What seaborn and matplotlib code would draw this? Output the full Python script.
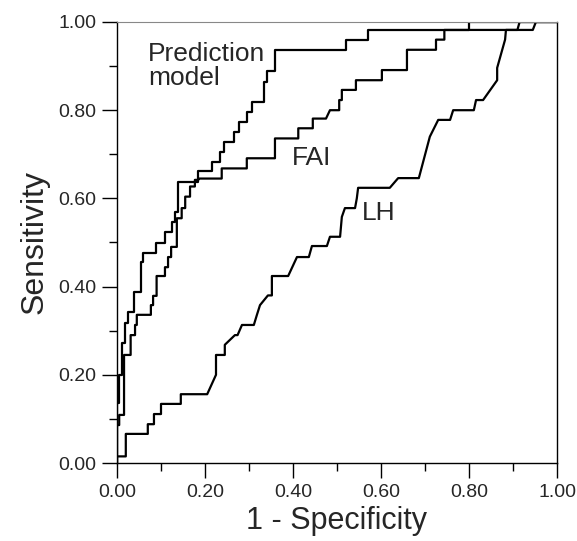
#!/usr/bin/env python3
import matplotlib
matplotlib.use("Agg")
import matplotlib.pyplot as plt
from matplotlib.ticker import MultipleLocator, FormatStrFormatter
import pandas as pd
import seaborn as sns

# ROC step curves (1 - specificity, sensitivity)
pred_fpr = [0, 0, 0.005, 0.005, 0.011, 0.011, 0.018, 0.018, 0.025, 0.025, 0.039, 0.039,
            0.054, 0.054, 0.06, 0.06, 0.089, 0.089, 0.109, 0.109, 0.125, 0.125, 0.132, 0.132,
            0.138, 0.138, 0.185, 0.185, 0.215, 0.215, 0.234, 0.234, 0.244, 0.244, 0.265, 0.265,
            0.278, 0.278, 0.295, 0.295, 0.306, 0.306, 0.333, 0.333, 0.34, 0.34, 0.359, 0.359,
            0.52, 0.52, 0.57, 0.57, 0.80, 0.80, 1.0]
pred_tpr = [0, 0.136, 0.136, 0.20, 0.20, 0.272, 0.272, 0.317, 0.317, 0.342, 0.342, 0.388,
            0.388, 0.455, 0.455, 0.476, 0.476, 0.50, 0.50, 0.524, 0.524, 0.546, 0.546, 0.57,
            0.57, 0.638, 0.638, 0.661, 0.661, 0.683, 0.683, 0.706, 0.706, 0.729, 0.729, 0.751,
            0.751, 0.774, 0.774, 0.797, 0.797, 0.819, 0.819, 0.865, 0.865, 0.888, 0.888, 0.937,
            0.937, 0.96, 0.96, 0.982, 0.982, 1.0, 1.0]

fai_fpr = [0, 0, 0.005, 0.005, 0.016, 0.016, 0.031, 0.031, 0.041, 0.041, 0.045, 0.045,
           0.077, 0.077, 0.082, 0.082, 0.09, 0.09, 0.109, 0.109, 0.116, 0.116, 0.123, 0.123,
           0.136, 0.136, 0.147, 0.147, 0.155, 0.155, 0.166, 0.166, 0.177, 0.177, 0.185, 0.185,
           0.238, 0.238, 0.295, 0.295, 0.359, 0.359, 0.412, 0.412, 0.445, 0.445, 0.475, 0.484,
           0.505, 0.505, 0.511, 0.511, 0.543, 0.543, 0.602, 0.602, 0.659, 0.659, 0.725, 0.725,
           0.744, 0.744, 0.945, 0.952, 1.0]
fai_tpr = [0, 0.086, 0.086, 0.109, 0.109, 0.245, 0.245, 0.29, 0.29, 0.313, 0.313, 0.336,
           0.336, 0.358, 0.358, 0.379, 0.379, 0.424, 0.424, 0.444, 0.444, 0.467, 0.467, 0.49,
           0.49, 0.555, 0.555, 0.578, 0.578, 0.604, 0.604, 0.627, 0.627, 0.642, 0.642, 0.645,
           0.645, 0.668, 0.668, 0.691, 0.691, 0.736, 0.736, 0.759, 0.759, 0.781, 0.781, 0.80,
           0.80, 0.823, 0.823, 0.846, 0.846, 0.868, 0.868, 0.891, 0.891, 0.937, 0.937, 0.96,
           0.96, 0.982, 0.982, 1.0, 1.0]

lh_fpr = [0, 0, 0.02, 0.02, 0.07, 0.07, 0.084, 0.084, 0.10, 0.10, 0.145, 0.145, 0.205,
          0.225, 0.225, 0.245, 0.245, 0.268, 0.274, 0.284, 0.311, 0.318, 0.325, 0.343, 0.352,
          0.352, 0.389, 0.409, 0.436, 0.443, 0.477, 0.484, 0.507, 0.511, 0.518, 0.541, 0.545,
          0.548, 0.62, 0.639, 0.686, 0.711, 0.73, 0.757, 0.764, 0.811, 0.816, 0.832, 0.864,
          0.864, 0.882, 0.884, 0.91, 0.915, 1.0]
lh_tpr = [0, 0.015, 0.015, 0.066, 0.066, 0.088, 0.088, 0.111, 0.111, 0.134, 0.134, 0.156,
          0.156, 0.20, 0.245, 0.245, 0.268, 0.29, 0.29, 0.313, 0.313, 0.336, 0.358, 0.38, 0.38,
          0.424, 0.424, 0.467, 0.467, 0.492, 0.492, 0.513, 0.513, 0.558, 0.578, 0.578, 0.60,
          0.624, 0.624, 0.646, 0.646, 0.74, 0.778, 0.778, 0.80, 0.80, 0.823, 0.823, 0.868,
          0.896, 0.96, 0.982, 0.982, 1.0, 1.0]

curve_names = ["Prediction model", "FAI", "LH"]

frames = []
for name, fpr, tpr in zip(curve_names, [pred_fpr, fai_fpr, lh_fpr], [pred_tpr, fai_tpr, lh_tpr]):
    frames.append(pd.DataFrame({"fpr": fpr, "tpr": tpr, "curve": name}))
df = pd.concat(frames, ignore_index=True)

sns.set_style("ticks")
plt.rcParams["font.family"] = ["Liberation Sans", "DejaVu Sans"]

fig = plt.figure(figsize=(5.77, 5.41), dpi=100)
ax = fig.add_axes([117 / 577, 78 / 541, 440 / 577, 441 / 541])

sns.lineplot(data=df, x="fpr", y="tpr", hue="curve", units="curve", estimator=None,
             sort=False, palette=["black"] * 3, linewidth=1.6, legend=False, ax=ax)

ax.set_xlim(0, 1)
ax.set_ylim(0, 1)
ax.xaxis.set_major_locator(MultipleLocator(0.2))
ax.xaxis.set_minor_locator(MultipleLocator(0.1))
ax.yaxis.set_major_locator(MultipleLocator(0.2))
ax.yaxis.set_minor_locator(MultipleLocator(0.1))
ax.xaxis.set_major_formatter(FormatStrFormatter("%.2f"))
ax.yaxis.set_major_formatter(FormatStrFormatter("%.2f"))
ax.tick_params(which="major", direction="out", length=11, width=1, labelsize=14, pad=4,
               color="black")
ax.tick_params(which="minor", direction="out", length=6, width=1, color="black")

for side in ["left", "bottom", "right"]:
    ax.spines[side].set_color("black")
    ax.spines[side].set_linewidth(1)
ax.spines["top"].set_color("#888888")
ax.spines["top"].set_linewidth(0.8)

ax.set_xlabel("1 - Specificity", fontsize=22, labelpad=4)
ax.set_ylabel("Sensitivity", fontsize=23, labelpad=6)

ax.text(0.07, 0.955, "Prediction\nmodel", fontsize=19, ha="left", va="top", linespacing=1.0)
ax.text(0.398, 0.665, "FAI", fontsize=19, ha="left", va="bottom")
ax.text(0.557, 0.54, "LH", fontsize=19, ha="left", va="bottom")

fig.savefig("out.png", dpi=100)
